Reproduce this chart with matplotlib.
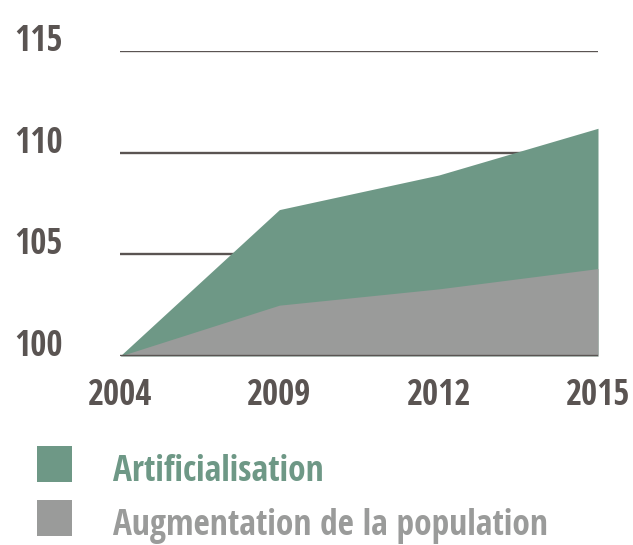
import matplotlib.pyplot as plt
from matplotlib.patches import Rectangle

years = ['2004', '2009', '2012', '2015']
artificialisation = [100, 107.2, 108.9, 111.2]
population = [100, 102.5, 103.3, 104.3]
yticks = [100, 105, 110, 115]

green = '#6e9886'
grey = '#9a9b9a'
dark = '#5a5452'

plt.rcParams['font.family'] = ['Open Sans Condensed', 'DejaVu Sans']
plt.rcParams['font.weight'] = 'bold'

fig = plt.figure(figsize=(6.33, 5.45), dpi=100)
ax = fig.add_axes([0.1896, 0.3468, 0.7551, 0.5596])

x = list(range(len(years)))
for y in yticks[1:]:
    ax.axhline(y, color=dark, lw=1.7, zorder=0)
ax.fill_between(x, 100, artificialisation, color=green, lw=0, zorder=1)
ax.fill_between(x, 100, population, color=grey, lw=0, zorder=2)
ax.axhline(100, color=dark, lw=1.7, zorder=3)

ax.set_xlim(0, len(years) - 1)
ax.set_ylim(100, 115)
ax.set_xticks(x)
ax.set_xticklabels(years)
ax.set_yticks(yticks)
ax.set_yticklabels([str(v) for v in yticks])
ax.tick_params(length=0, labelsize=25, colors=dark)
ax.tick_params(axis='y', pad=41)
ax.tick_params(axis='x', pad=16)
for lab in ax.get_yticklabels():
    lab.set_verticalalignment('baseline')
for sp in ax.spines.values():
    sp.set_visible(False)

# legend
labels = ['Artificialisation', 'Augmentation de la population']
colors = [green, grey]
for i, (lab, c) in enumerate(zip(labels, colors)):
    top = 446 + i * 54
    fig.patches.append(Rectangle((37 / 633, 1 - (top + 36) / 545), 35 / 633, 36 / 545,
                                 transform=fig.transFigure, color=c, lw=0))
    fig.text(113 / 633, 1 - (top + 35) / 545, lab, color=c, fontsize=25.5,
             va='baseline', ha='left')

fig.savefig('out.png', dpi=100)
